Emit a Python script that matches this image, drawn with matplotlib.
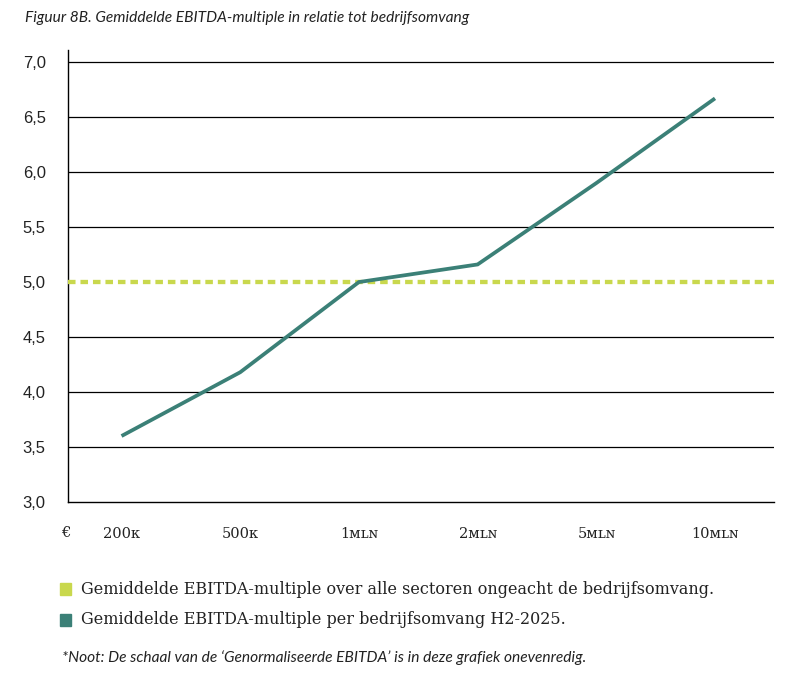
import matplotlib
matplotlib.use("Agg")
import matplotlib.pyplot as plt
from matplotlib.patches import Rectangle

# data
omvang = ["200ᴋ", "500ᴋ", "1ᴍʟɴ", "2ᴍʟɴ", "5ᴍʟɴ", "10ᴍʟɴ"]
multiple = [3.60, 4.18, 5.00, 5.16, 5.90, 6.67]
gemiddelde_alle = 5.0
y_ticks = [3.0, 3.5, 4.0, 4.5, 5.0, 5.5, 6.0, 6.5, 7.0]

legend_labels = [
    "Gemiddelde EBITDA-multiple over alle sectoren ongeacht de bedrijfsomvang.",
    "Gemiddelde EBITDA-multiple per bedrijfsomvang H2-2025.",
]
title = "Figuur 8B. Gemiddelde EBITDA-multiple in relatie tot bedrijfsomvang"
noot = "*Noot: De schaal van de \u2018Genormaliseerde EBITDA\u2019 is in deze grafiek onevenredig."

teal = "#3b8077"
lime = "#c9d84d"
W, H = 792, 677

fig = plt.figure(figsize=(W / 100, H / 100), dpi=100)
ax = fig.add_axes([68 / W, 1 - 502 / H, (774 - 68) / W, (502 - 50) / H])

x = list(range(len(omvang)))
ax.axhline(gemiddelde_alle, color=lime, lw=3.1, dashes=(1.75, 1.15),
           dash_capstyle="butt", zorder=3)
ax.plot(x, multiple, color=teal, lw=2.7, solid_capstyle="butt",
        solid_joinstyle="miter", zorder=4)

ax.set_xlim(-0.451, 5.497)
ax.set_ylim(3.0, 7.11)
ax.set_yticks(y_ticks)
ax.set_yticklabels([f"{v:.1f}".replace(".", ",") for v in y_ticks],
                   family="Liberation Sans", fontsize=12, color="#222222")
# grid lines, none under the dashed average line
for v in y_ticks[1:]:
    if v != gemiddelde_alle:
        ax.axhline(v, color="black", lw=0.9, zorder=2)

ax.set_xticks(x)
ax.set_xticklabels(omvang, family=["DejaVu Serif", "DejaVu Sans"],
                   fontsize=10.5, color="#222222")
ax.tick_params(axis="x", length=0, pad=18)
ax.tick_params(axis="y", length=0, pad=16)

for s in ["top", "right"]:
    ax.spines[s].set_visible(False)
ax.spines["left"].set_linewidth(1.0)
ax.spines["bottom"].set_linewidth(1.0)

fig.text(66 / W, 1 - 533 / H, "\u20ac", ha="center", va="center",
         family="DejaVu Serif", fontsize=10.5, color="#222222")

fig.text(25 / W, 1 - 18 / H, title, ha="left", va="center",
         family="Lato", style="italic", fontsize=11.2, color="#222222")

for i, (lab, col) in enumerate(zip(legend_labels, [lime, teal])):
    yc = 589 + i * 31
    fig.patches.append(Rectangle((60 / W, 1 - (yc + 6) / H), 11 / W, 12 / H,
                                 transform=fig.transFigure, color=col))
    fig.text(81 / W, 1 - yc / H, lab, ha="left", va="center",
             family="DejaVu Serif", fontsize=11.5, color="#222222")

fig.text(62 / W, 1 - 658 / H, noot, ha="left", va="center",
         family="Lato", style="italic", fontsize=11.2, color="#222222")

fig.savefig("out.png", dpi=100)
